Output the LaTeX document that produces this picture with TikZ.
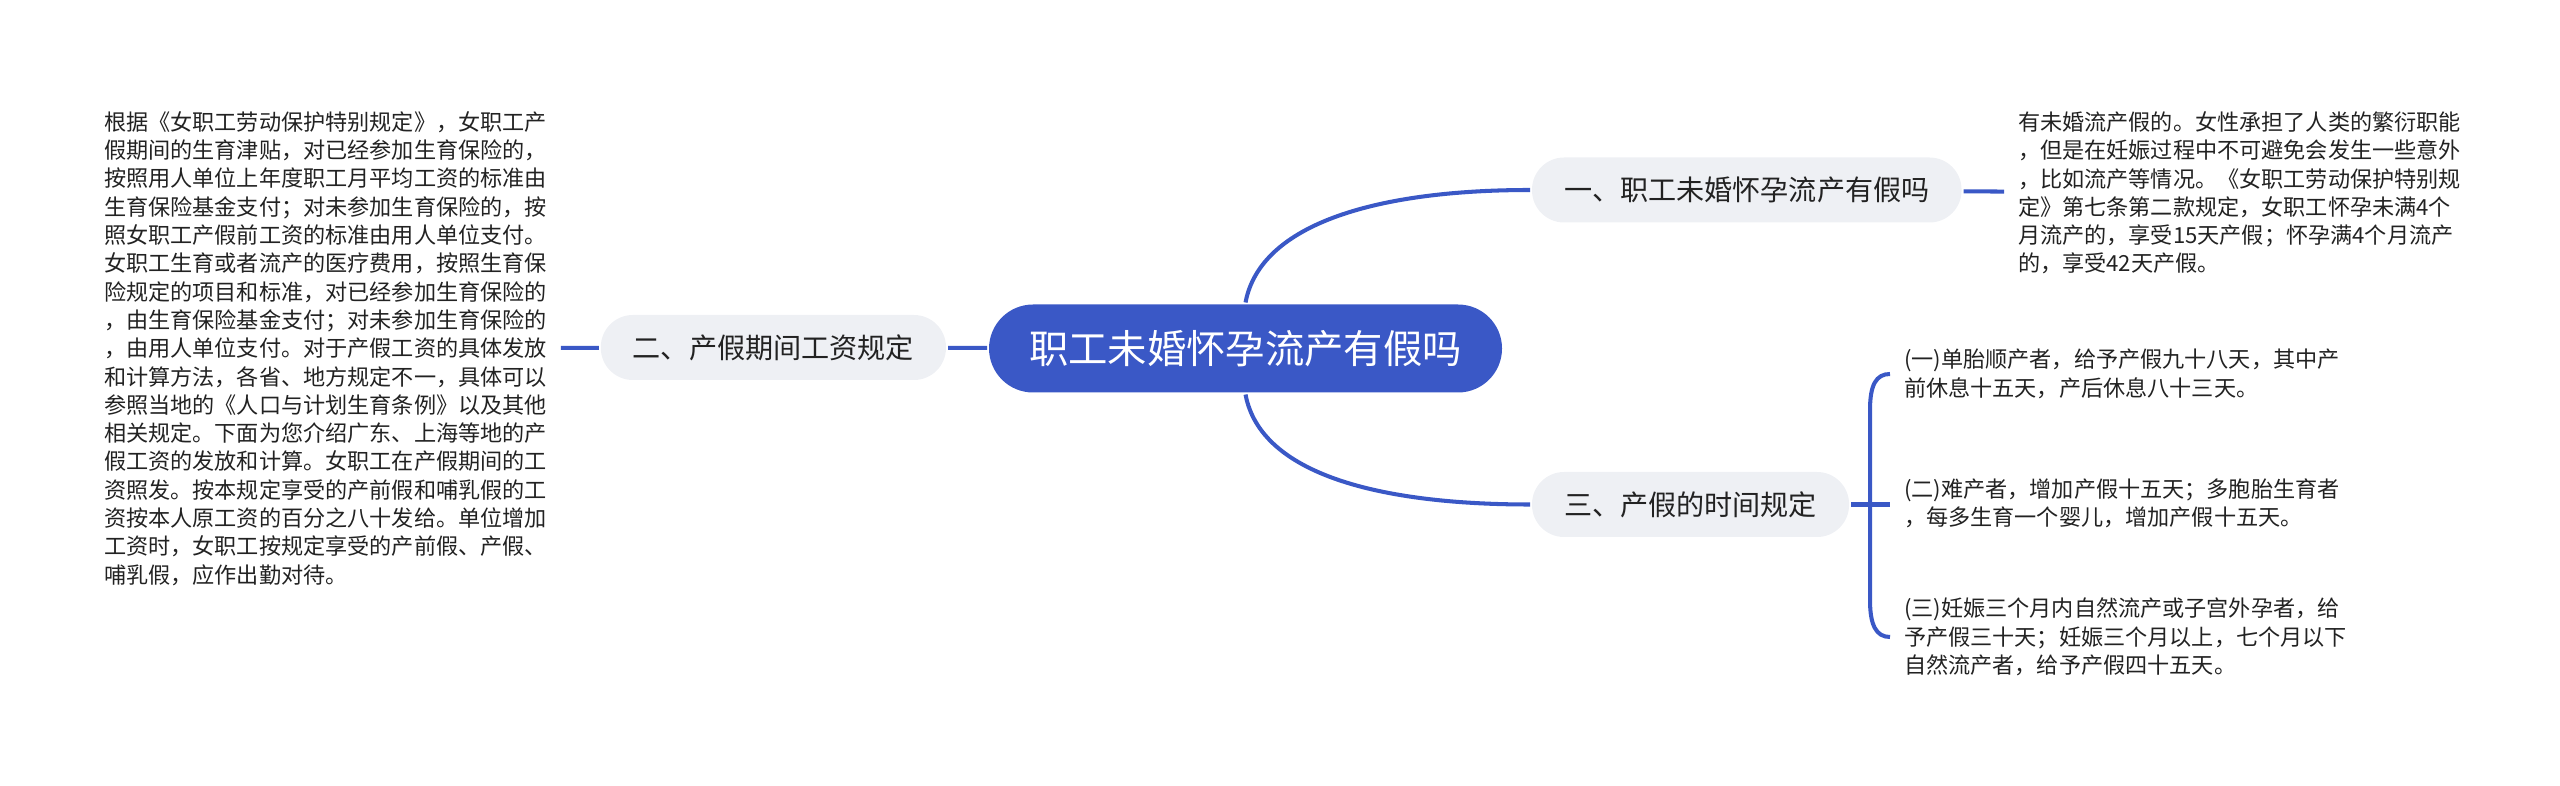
\documentclass[tikz,border=0pt]{standalone}
\usepackage{fontspec}
\setmainfont{Noto Sans CJK SC}
\definecolor{mapblue}{HTML}{3A58C6}
\definecolor{pillgray}{HTML}{EEF0F4}
\definecolor{ink}{HTML}{222222}

\tikzset{pill/.style={fill=pillgray, text=ink, rounded corners=3.2mm, minimum height=6.5mm, inner xsep=3.2mm, font=\fontsize{8}{10}\selectfont}}
\tikzset{root/.style={pill, fill=mapblue, text=white, rounded corners=4.4mm, minimum height=8.8mm, inner xsep=4mm, font=\fontsize{11.2}{13}\selectfont}}
\tikzset{leaf/.style={text=ink, inner xsep=1.2mm, inner ysep=0pt, align=left, font=\fontsize{6.3}{8.05}\selectfont}}

\begin{document}
\begin{tikzpicture}[line width=1.15pt, link/.style={draw=mapblue}]
    \useasboundingbox (0,0) rectangle (25.6,7.85);

    \node[root, anchor=west] (0) at (9.87,4.365) {职工未婚怀孕流产有假吗};

    \node[pill, anchor=west] (1) at (15.30,5.95) {一、职工未婚怀孕流产有假吗};
    \node[pill, anchor=east] (2) at (9.48,4.375) {二、产假期间工资规定};
    \node[pill, anchor=west] (3) at (15.30,2.805) {三、产假的时间规定};

    \node[leaf, anchor=west] (4) at (20.04,5.92) {有未婚流产假的。女性承担了人类的繁衍职能\\，但是在妊娠过程中不可避免会发生一些意外\\，比如流产等情况。《女职工劳动保护特别规\\定》第七条第二款规定，女职工怀孕未满4个\\月流产的，享受15天产假；怀孕满4个月流产\\的，享受42天产假。};
    \node[leaf, anchor=west] (5) at (0.90,4.365) {根据《女职工劳动保护特别规定》，女职工产\\假期间的生育津贴，对已经参加生育保险的，\\按照用人单位上年度职工月平均工资的标准由\\生育保险基金支付；对未参加生育保险的，按\\照女职工产假前工资的标准由用人单位支付。\\女职工生育或者流产的医疗费用，按照生育保\\险规定的项目和标准，对已经参加生育保险的\\，由生育保险基金支付；对未参加生育保险的\\，由用人单位支付。对于产假工资的具体发放\\和计算方法，各省、地方规定不一，具体可以\\参照当地的《人口与计划生育条例》以及其他\\相关规定。下面为您介绍广东、上海等地的产\\假工资的发放和计算。女职工在产假期间的工\\资照发。按本规定享受的产前假和哺乳假的工\\资按本人原工资的百分之八十发给。单位增加\\工资时，女职工按规定享受的产前假、产假、\\哺乳假，应作出勤对待。};

    \node[leaf, anchor=west] (6) at (18.90,4.11) {(一)单胎顺产者，给予产假九十八天，其中产\\前休息十五天，产后休息八十三天。};
    \node[leaf, anchor=west] (7) at (18.90,2.82) {(二)难产者，增加产假十五天；多胞胎生育者\\，每多生育一个婴儿，增加产假十五天。};
    \node[leaf, anchor=west] (8) at (18.90,1.48) {(三)妊娠三个月内自然流产或子宫外孕者，给\\予产假三十天；妊娠三个月以上，七个月以下\\自然流产者，给予产假四十五天。};

    \coordinate (9) at (18.70,2.805);

    \draw[link] (0) -- (2);
    \draw[link] (2) -- (5);
    \draw[link] (1) -- (4);
    \draw[link] (0.north) .. controls +(0.15,0.8) and +(-1.5,0) .. (1.west);
    \draw[link] (0.south) .. controls +(0.15,-0.8) and +(-1.5,0) .. (3.west);
    \draw[link] (3.east) -- (9) -- (7.west |- 9);
    \draw[link] (6.west) .. controls +(-0.14,0) and +(0,0.25) .. (18.70,3.75) -- (18.70,1.85) .. controls +(0,-0.25) and +(-0.14,0) .. (8.west);
\end{tikzpicture}
\end{document}
